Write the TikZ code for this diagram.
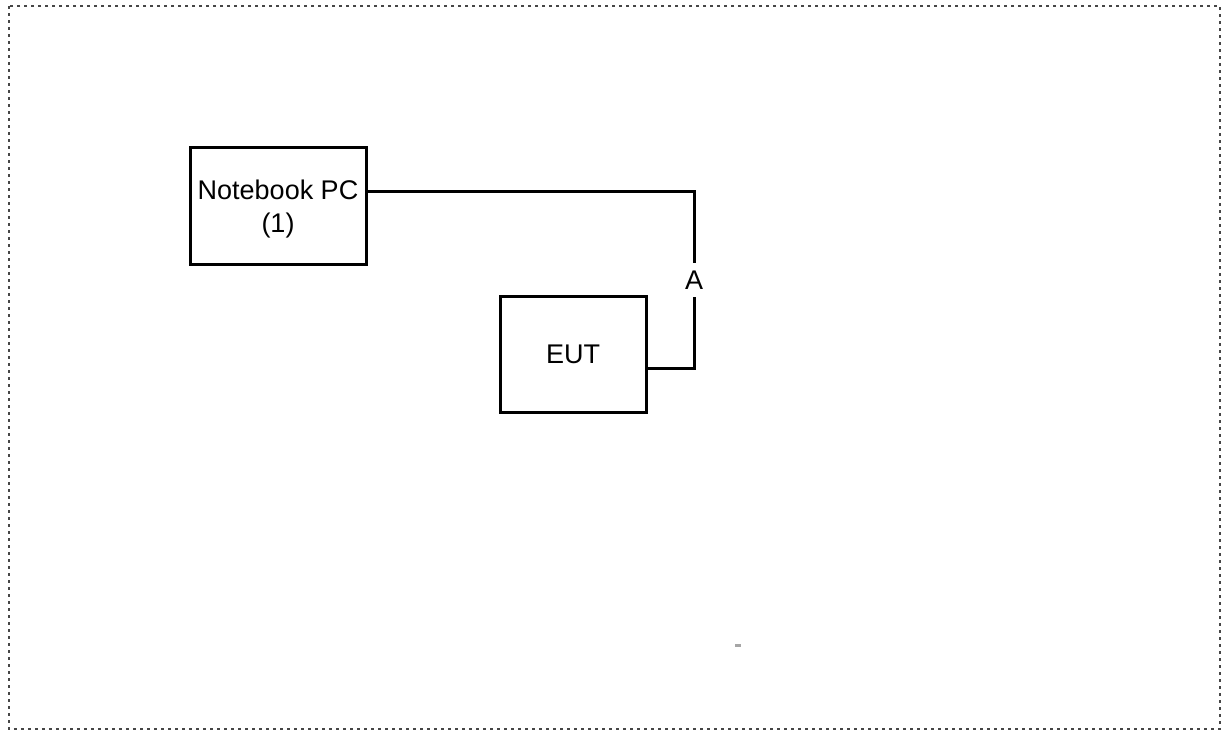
\documentclass[tikz,border=0pt]{standalone}
\usepackage{fontspec}
\setmainfont{Liberation Sans}
\definecolor{frameGray}{RGB}{70,70,70}
\tikzset{
  devBox/.style={draw=black, line width=3pt, minimum width=176pt, minimum height=117pt, inner sep=0pt},
  devText/.style={inner sep=0pt, align=center, font=\fontsize{27}{33}\selectfont},
  linkLine/.style={draw=black, line width=3pt}
}
\begin{document}
\begin{tikzpicture}[x=1pt,y=-1pt]
\useasboundingbox (0,0) rectangle (1222,731);
\draw[frameGray, line width=2.6pt, dash pattern=on 2.6pt off 4.4pt] (9,6) rectangle (1220,729);
\node[devBox] (nbPC) at (278,205.5) {};
\node[devText] (nbText) at ([yshift=-4pt]nbPC.center) {Notebook PC\\(1)};
\node[devBox, minimum width=146pt, minimum height=116pt] (eut) at (573,354) {};
\node[devText] (eutText) at (eut.center) {EUT};
\coordinate (cornerTop) at (694,191);
\coordinate (cornerLow) at (694,368);
\node[devText, minimum height=34pt] (lblA) at (694,280) {A};
\draw[linkLine] (nbPC.east |- cornerTop) -- (cornerTop) -- (lblA.north);
\draw[linkLine] (lblA.south) -- (cornerLow) -- (eut.east |- cornerLow);
\fill[gray!70] (735,643.5) rectangle (741,646.5);
\end{tikzpicture}
\end{document}
